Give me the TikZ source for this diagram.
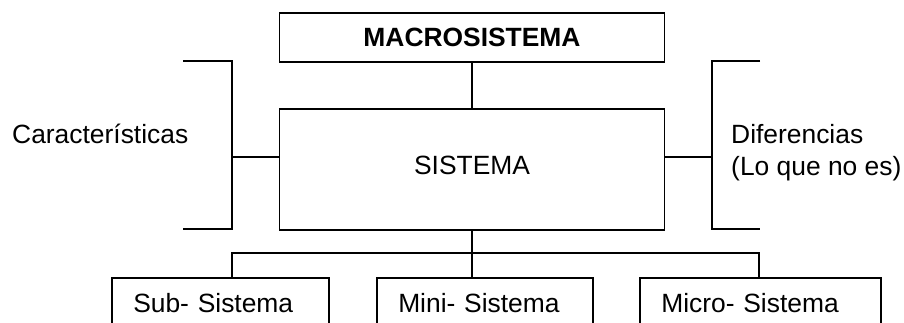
\documentclass[tikz,border=0pt]{standalone}
\usepackage{fontspec}
\setmainfont{Liberation Sans}
\usepackage{tikz}
\usepackage{xcolor}
\usetikzlibrary{positioning}
\definecolor{ink}      {HTML}{000000}
\definecolor{paper}    {HTML}{FFFFFF}

\begin{document}
\begin{tikzpicture}[x=1pt,y=-1pt,
    font=\fontsize{26.4}{31}\selectfont,
    box/.style={draw=ink,line width=1.5pt,fill=paper,inner sep=0pt},
    subbox/.style={box,anchor=north west,inner xsep=21.5pt,inner ysep=0pt,
                   text height=35pt,text depth=45pt,align=left},
    conn/.style={draw=ink,line width=1.5pt}]
  \useasboundingbox (0,0) rectangle (904,322);
  \clip (0,0) rectangle (904,322);
  % central column
  \node[box,minimum width=385pt,minimum height=49pt,font=\fontsize{26.4}{31}\selectfont\bfseries]
      (macro) at (472,37.5) {MACROSISTEMA};
  \node[box,minimum width=385pt,minimum height=121pt,text depth=8pt]
      (sis) at (472,169.5) {SISTEMA};
  % lower level
  \node[subbox,text width=174pt] (sub)   at (111,277) {Sub- Sistema};
  \node[subbox,text width=173pt] (mini)  at (376,277) {Mini- Sistema};
  \node[subbox,text width=198pt] (micro) at (639,277) {Micro- Sistema};
  % side labels
  \node[anchor=base west,inner sep=0pt] (car) at (12,143) {Características};
  \node[anchor=north west,inner sep=0pt,align=left] (dif) at (731,124)
      {Diferencias\\[1pt](Lo que no es)};
  % brackets
  \coordinate (lb) at (232,157);
  \coordinate (rb) at (712,157);
  \draw[conn] (183,61) -| (lb) |- (183,229);
  \draw[conn] (760,61) -| (rb) |- (760,229);
  \draw[conn] (lb) -- (lb -| sis.west);
  \draw[conn] (rb) -- (rb -| sis.east);
  % links
  \draw[conn] (macro) -- (sis);
  \draw[conn] (sis.south) -- (sis.south |- mini.north);
  \coordinate (busl) at (232,253);
  \coordinate (busr) at (759,253);
  \draw[conn] (busl |- sub.north) -- (busl) -- (busr) -- (busr |- micro.north);
\end{tikzpicture}
\end{document}
